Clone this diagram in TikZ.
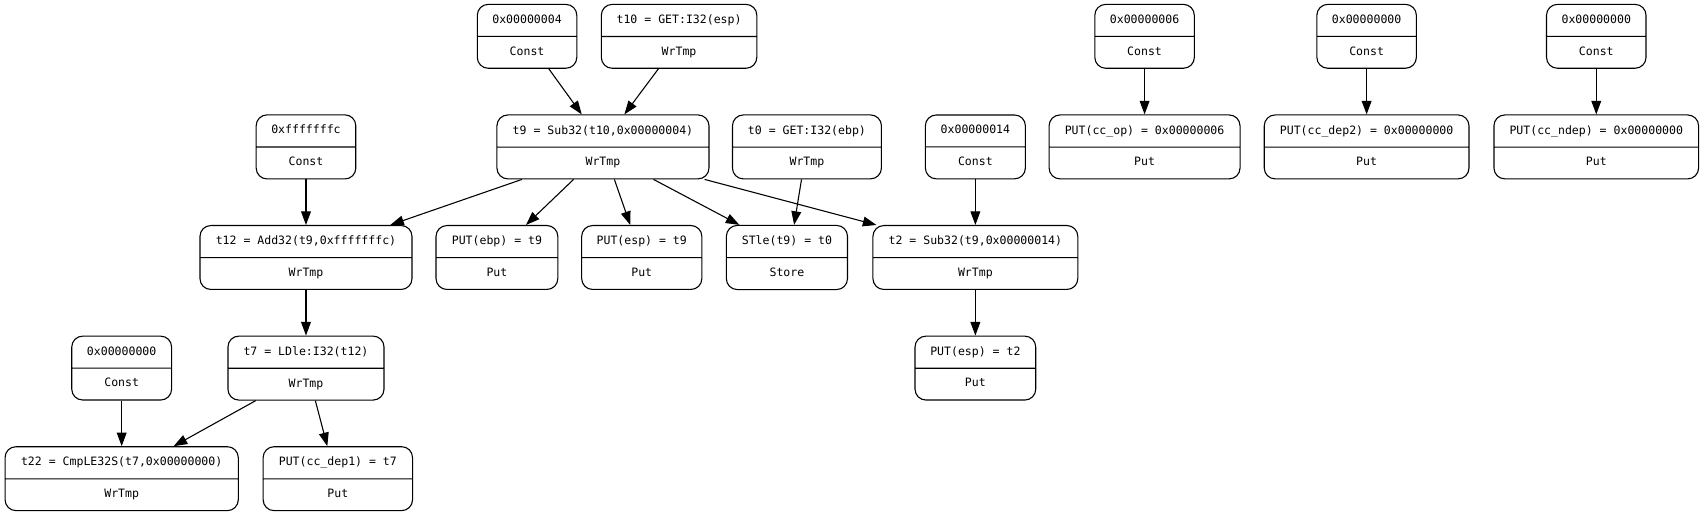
\documentclass[tikz,border=0pt]{standalone}
\usepackage{fontspec}
\setmonofont{DejaVu Sans Mono}
\usepackage{tikz}
\usetikzlibrary{shapes.multipart,arrows.meta}

\newcommand{\irstrut}{\rule[-2.5pt]{0pt}{10pt}}
\newcommand{\ir}[2]{\irstrut #1\nodepart{two}\irstrut #2}

\tikzset{
  irnode/.style={rectangle split, rectangle split parts=2, draw, line width=1pt,
    rounded corners=10pt, inner xsep=6pt, inner ysep=9pt,
    font=\ttfamily\fontsize{10.6pt}{12pt}\selectfont},
  irarrow/.style={-{Triangle[length=12.5pt,width=9pt]}, line width=1pt}
}

\begin{document}
\begin{tikzpicture}[x=1pt, y=-1pt]
    \useasboundingbox (0,0) rectangle (1568,474.5);

    % row 1
    \node[irnode, minimum width=91.5pt] (c4) at (484.7,33.4) {\ir{0x00000004}{Const}};
    \node[irnode, minimum width=143pt] (t10) at (624.5,33.4) {\ir{t10 = GET:I32(esp)}{WrTmp}};

    % row 2
    \node[irnode, minimum width=91.6pt] (cfc) at (281.4,135.1) {\ir{0xfffffffc}{Const}};
    \node[irnode, minimum width=195pt] (t9) at (554.5,135.1) {\ir{t9 = Sub32(t10,0x00000004)}{WrTmp}};
    \node[irnode, minimum width=137pt] (t0) at (742.1,135.1) {\ir{t0 = GET:I32(ebp)}{WrTmp}};
    \node[irnode, minimum width=92pt] (c14) at (897,135.1) {\ir{0x00000014}{Const}};

    % row 3
    \node[irnode, minimum width=195pt] (t12) at (281.4,236.8) {\ir{t12 = Add32(t9,0xfffffffc)}{WrTmp}};
    \node[irnode, minimum width=112pt] (putebp) at (457,236.8) {\ir{PUT(ebp) = t9}{Put}};
    \node[irnode, minimum width=110.5pt] (putesp) at (590.2,236.8) {\ir{PUT(esp) = t9}{Put}};
    \node[irnode, minimum width=111.4pt] (stle) at (723.7,236.8) {\ir{STle(t9) = t0}{Store}};
    \node[irnode, minimum width=188.4pt] (t2) at (897,236.8) {\ir{t2 = Sub32(t9,0x00000014)}{WrTmp}};

    % row 4
    \node[irnode, minimum width=91.8pt] (c0) at (111.9,338.5) {\ir{0x00000000}{Const}};
    \node[irnode, minimum width=143.5pt] (t7) at (281.4,338.5) {\ir{t7 = LDle:I32(t12)}{WrTmp}};
    \node[irnode, minimum width=111pt] (putesptwo) at (897,338.5) {\ir{PUT(esp) = t2}{Put}};

    % row 5
    \node[irnode, minimum width=214.5pt] (t22) at (111.9,440.2) {\ir{t22 = CmpLE32S(t7,0x00000000)}{WrTmp}};
    \node[irnode, minimum width=137.4pt] (putdep1) at (310.7,440.2) {\ir{PUT(cc\_dep1) = t7}{Put}};

    % Flag puts (right side)
    \foreach \x/\n/\val/\w/\reg in {1052.6/op/0x00000006/175.6/cc\_op, 1256.8/dep2/0x00000000/188.3/cc\_dep2, 1468/ndep/0x00000000/188.2/cc\_ndep} {
        \node[irnode, minimum width=91.5pt] (c\n) at (\x,33.4) {\ir{\val}{Const}};
        \node[irnode, minimum width=\w pt] (put\n) at (\x,135.1) {\ir{PUT(\reg) = \val}{Put}};
        \draw[irarrow] (c\n.south) -- (put\n.north);
    }

    % Edges
    \draw[irarrow] ([xshift=20pt]c4.south) -- ([xshift=-19.5pt]t9.north);
    \draw[irarrow] ([xshift=-19pt]t10.south) -- ([xshift=19.7pt]t9.north);
    \draw[irarrow] (cfc.south) -- (t12.north);
    \draw[irarrow] ([xshift=-74.5pt]t9.south) -- ([xshift=77.5pt]t12.north);
    \draw[irarrow] ([xshift=-27pt]t9.south) -- ([xshift=26.7pt]putebp.north);
    \draw[irarrow] ([xshift=10.5pt]t9.south) -- ([xshift=-10.6pt]putesp.north);
    \draw[irarrow] ([xshift=46.5pt]t9.south) -- ([xshift=-43.7pt]stle.north);
    \draw[irarrow] ([xshift=93.5pt]t9.south) -- ([xshift=-91pt]t2.north);
    \draw[irarrow] ([xshift=-5pt]t0.south) -- ([xshift=6.6pt]stle.north);
    \draw[irarrow] (c14.south) -- (t2.north);
    \draw[irarrow] (t12.south) -- (t7.north);
    \draw[irarrow] (t2.south) -- (putesptwo.north);
    \draw[irarrow] ([xshift=-46.2pt]t7.south) -- ([xshift=47.8pt]t22.north);
    \draw[irarrow] ([xshift=8.6pt]t7.south) -- ([xshift=-9.7pt]putdep1.north);
    \draw[irarrow] (c0.south) -- (t22.north);
\end{tikzpicture}
\end{document}
